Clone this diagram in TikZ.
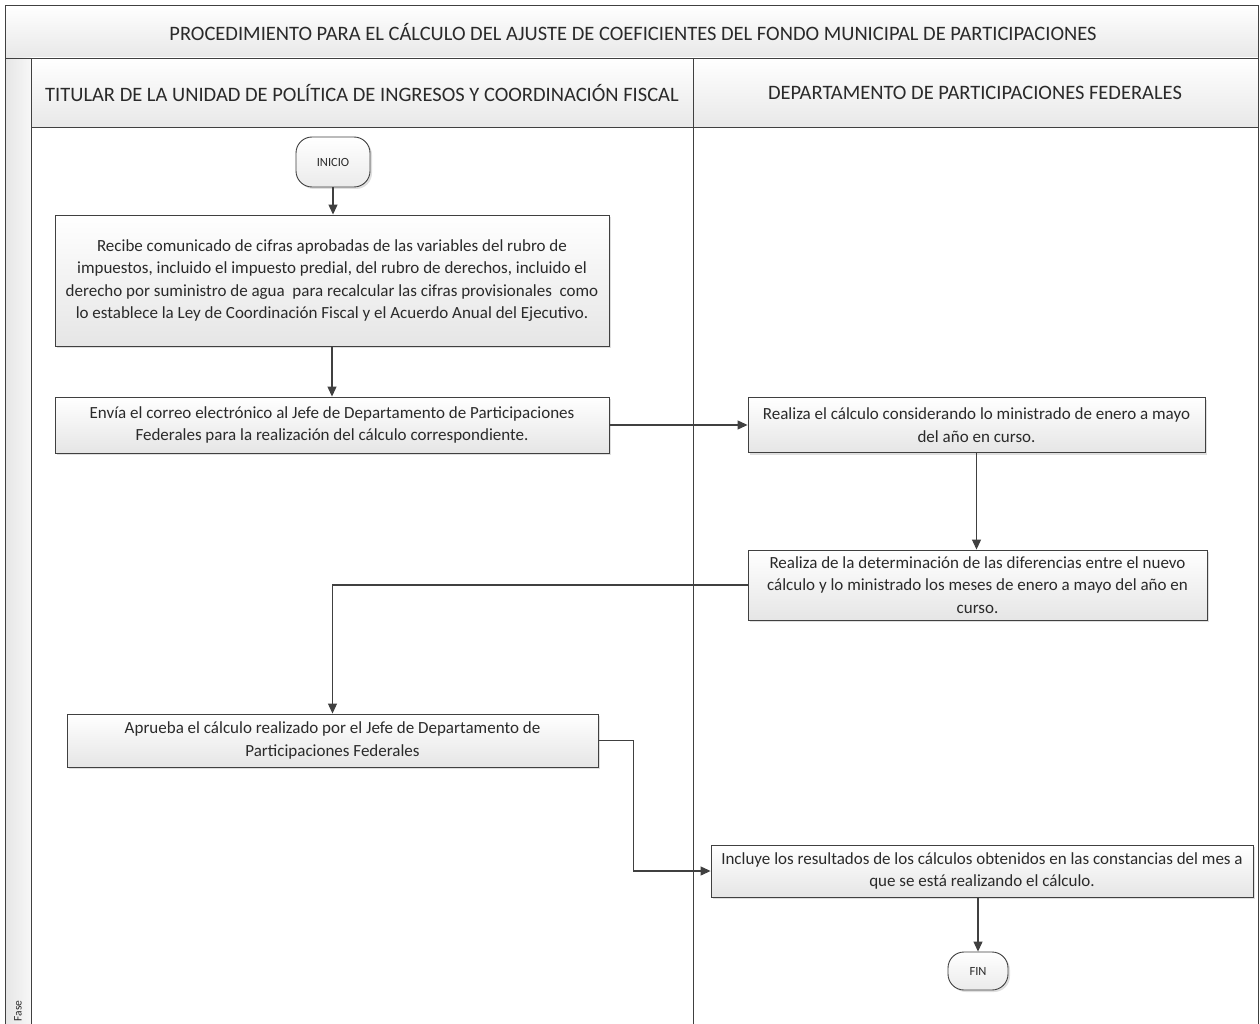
\documentclass[tikz,border=0pt]{standalone}
\usepackage{fontspec}
\setmainfont{Carlito}
\usetikzlibrary{arrows.meta,shadows,positioning}
\definecolor{linec}{HTML}{404040}
\definecolor{txtc}{HTML}{2A2A2A}
\tikzset{
  stepbox/.style={draw=linec, line width=0.9pt, top color=white, bottom color=black!10,
    drop shadow={opacity=0.25, shadow xshift=2pt, shadow yshift=-2pt},
    align=center, inner sep=2pt, text=txtc, font=\fontsize{17}{22.5}\selectfont},
  termbox/.style={draw=linec, line width=0.9pt, rounded corners=16pt, top color=white, bottom color=black!8,
    drop shadow={opacity=0.25, shadow xshift=2pt, shadow yshift=-2pt},
    align=center, text=txtc, font=\fontsize{12.5}{14}\selectfont},
  arr/.style={draw=linec, line width=1.1pt, -{Triangle[length=10pt,width=9pt]}},
  lane/.style={draw=linec, line width=0.9pt},
  headtxt/.style={text=txtc, font=\fontsize{20.5}{24}\selectfont}
}
\begin{document}
\begin{tikzpicture}[x=1pt,y=-1pt]
\useasboundingbox (0,0) rectangle (1260,1024);
\fill[white] (0,0) rectangle (1260,1024);
% title band
\shade[top color=white, bottom color=black!9] (5,5) rectangle (1258,58);
\node[headtxt] (title) at (633,32) {PROCEDIMIENTO PARA EL CÁLCULO DEL AJUSTE DE COEFICIENTES DEL FONDO MUNICIPAL DE PARTICIPACIONES};
% fase column
\shade[left color=black!10, right color=black!3] (5,58) rectangle (31,1024);
% lane header band
\shade[top color=white, bottom color=black!9] (31,58) rectangle (1258,127);
\node[headtxt] (lane1) at (362,93) {TITULAR DE LA UNIDAD DE POLÍTICA DE INGRESOS Y COORDINACIÓN FISCAL};
\node[headtxt] (lane2) at (975,93) {DEPARTAMENTO DE PARTICIPACIONES FEDERALES};
% lines
\draw[lane] (5,1024) -- (5,5) -- (1258,5) -- (1258,1024);
\draw[lane] (5,58) -- (1258,58);
\draw[lane] (31,127) -- (1258,127);
\draw[lane] (31,58) -- (31,1024);
\draw[lane] (693,58) -- (693,1024);
\node[rotate=90, text=txtc, font=\fontsize{11.5}{13}\selectfont] (fase) at (18,1011) {Fase};

% nodes
\node[termbox, minimum width=74pt, minimum height=50pt] (inicio) at (333,162) {INICIO};
\node[stepbox, minimum width=554pt, minimum height=131pt] (b1) at (332,280.5)
 {Recibe comunicado de cifras aprobadas de las variables del rubro de\\
  impuestos, incluido el impuesto predial, del rubro de derechos, incluido el\\
  derecho por suministro de agua \ para recalcular las cifras provisionales \ como\\
  lo establece la Ley de Coordinación Fiscal y el Acuerdo Anual del Ejecutivo.};
\node[stepbox, minimum width=554pt, minimum height=56pt] (b2) at (332,425)
 {Envía el correo electrónico al Jefe de Departamento de Participaciones\\
  Federales para la realización del cálculo correspondiente.};
\node[stepbox, minimum width=457pt, minimum height=55pt] (b3) at (976.5,425)
 {Realiza el cálculo considerando lo ministrado de enero a mayo\\
  del año en curso.};
\node[stepbox, minimum width=459pt, minimum height=70pt] (b4) at (977.5,585)
 {Realiza de la determinación de las diferencias entre el nuevo\\
  cálculo y lo ministrado los meses de enero a mayo del año en\\
  curso.};
\node[stepbox, minimum width=531pt, minimum height=53pt] (b5) at (332.5,740.5)
 {Aprueba el cálculo realizado por el Jefe de Departamento de\\
  Participaciones Federales};
\node[stepbox, minimum width=542pt, minimum height=52pt] (b6) at (982,871)
 {Incluye los resultados de los cálculos obtenidos en las constancias del mes a\\
  que se está realizando el cálculo.};
\node[termbox, minimum width=60pt, minimum height=38pt] (fin) at (978,971) {FIN};

% connectors
\draw[arr] (inicio.south) -- (b1.north -| inicio.south);
\draw[arr] (b1.south) -- (b2.north);
\draw[arr] (b2.east) -- (b3.west);
\draw[arr] (b3.south) -- (b4.north -| b3.south);
\draw[arr] (b4.west) -| (b5.north);
\draw[arr] (b5.east) -- ++(35,0) |- (b6.west);
\draw[arr] (b6.south -| fin.north) -- (fin.north);
\end{tikzpicture}
\end{document}
